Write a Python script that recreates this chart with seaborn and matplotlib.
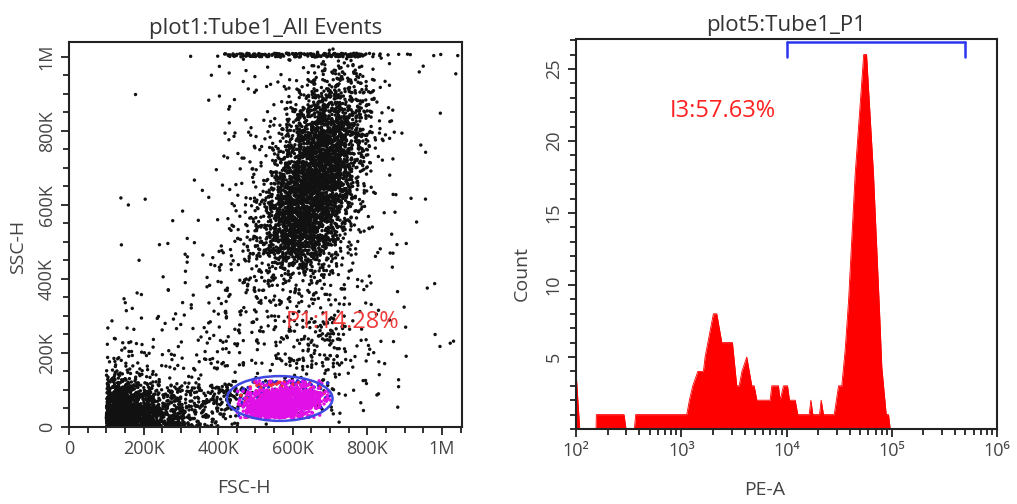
import numpy as np
import pandas as pd
import matplotlib
matplotlib.use("Agg")
import matplotlib.pyplot as plt
import seaborn as sns
from matplotlib.patches import Ellipse
from matplotlib.ticker import MultipleLocator, FixedLocator, LogLocator, NullFormatter

sns.set_style("white")
plt.rcParams["font.family"] = ["Open Sans", "DejaVu Sans"]

# ---------------- data: left panel (FSC-H vs SSC-H), event counts per 50K x 50K cell ----------------
grid_step = 50_000
fsc_threshold = 100_000          # acquisition threshold: no events below this FSC
# rows = SSC bins from 0 (bottom) upward, columns = FSC bins from 0 to 1.05M
scatter_rows = [
    "0 0 520 400 180 95 45 28 10 3 1 0 0 1 2 1 0 0 0 0 0",
    "0 0 200 140 60 45 40 45 55 10 2 1 2 3 4 1 1 1 0 0 0",
    "0 0 50 30 13 9 7 6 8 4 3 4 6 9 9 3 1 2 0 0 0",
    "0 0 12 8 5 5 5 5 7 5 4 7 12 17 12 4 2 1 1 0 0",
    "0 0 5 4 3 3 4 4 7 5 6 8 14 18 12 3 2 1 0 1 1",
    "0 0 3 2 3 3 3 4 7 6 7 8 12 14 10 3 2 1 0 0 3",
    "0 0 1 1 2 2 3 3 6 6 8 8 9 10 7 3 2 1 0 0 0",
    "0 0 1 1 1 2 2 3 6 7 10 11 11 11 6 2 2 1 1 0 1",
    "0 0 0 0 1 1 2 3 5 9 18 25 28 19 10 2 2 1 0 0 0",
    "0 0 1 0 1 1 1 2 5 14 32 80 95 45 15 3 2 2 0 0 0",
    "0 0 0 0 0 0 1 1 4 10 32 120 165 95 32 5 2 0 1 0 0",
    "0 0 1 1 1 1 1 2 4 6 24 105 175 135 55 8 2 0 1 0 0",
    "0 0 0 0 0 0 0 1 3 5 16 80 160 155 80 15 2 2 1 1 0",
    "0 0 0 0 0 0 0 1 2 4 10 60 140 155 105 22 3 0 0 0 0",
    "0 0 0 0 0 0 0 0 2 3 6 40 110 140 115 32 4 0 0 0 0",
    "0 0 0 0 0 0 0 0 2 3 5 24 80 125 115 40 6 1 1 1 0",
    "0 0 0 0 0 0 0 0 2 2 4 14 48 92 90 40 6 2 0 0 0",
    "0 0 0 0 0 0 0 1 1 2 2 6 22 55 62 38 4 1 0 0 1",
    "0 0 0 1 0 0 0 1 2 3 3 4 9 24 34 22 3 0 0 0 0",
    "0 0 0 0 0 0 0 0 1 2 2 2 4 10 16 12 2 0 1 1 1",
]
# saturated events at the SSC ceiling (1.000M-1.010M), per 50K FSC bin
saturated_counts = "0 0 0 0 0 0 1 0 8 28 28 22 20 24 28 22 3 2 2 2 2"
saturated_ssc = (1_000_000, 1_010_000)

# P1 gated events, 25K x 25K cells: FSC 450K-700K, SSC 25K-125K (rows bottom->top)
p1_origin = (450_000, 25_000)
p1_step = 25_000
p1_magenta = [
    "5 28 52 58 58 45 32 13 4 0",
    "8 32 58 72 78 78 72 58 26 6",
    "3 10 23 36 42 47 52 47 29 8",
    "0 1 4 5 6 8 10 9 5 1",
]
p1_blue = [
    "2 3 4 4 3 3 2 1 0 0",
    "4 6 8 8 8 8 6 5 3 1",
    "5 9 12 12 12 12 12 10 6 2",
    "1 4 7 8 8 8 8 6 3 1",
]
p1_red = [
    "1 1 2 2 2 2 1 1 0 0",
    "1 2 3 3 3 3 3 2 2 1",
    "1 3 5 5 6 6 6 5 3 1",
    "0 2 4 4 5 5 5 4 2 0",
]
p1_gate = dict(center=(565_000, 77_000), width=283_000, height=121_000)
p1_label = "P1:14.28%"

# ---------------- data: right panel (PE-A histogram of P1) ----------------
pe_log = [2.000, 2.035, 2.190, 2.193, 2.456, 2.475, 2.554, 2.567, 3.052, 3.077,
          3.109, 3.157, 3.210, 3.226, 3.305, 3.337, 3.385, 3.486, 3.527, 3.550,
          3.576, 3.622, 3.670, 3.692, 3.718, 3.844, 3.860, 3.923, 3.939, 3.971,
          4.009, 4.028, 4.082, 4.107, 4.215, 4.231, 4.250, 4.313, 4.329, 4.351,
          4.453, 4.494, 4.525, 4.557, 4.589, 4.652, 4.733, 4.760, 4.826, 4.883,
          4.905, 4.947, 4.969, 4.985]
pe_count = [4.0, 0.0, 0.0, 1.0, 1.0, 0.0, 0.0, 1.0, 1.0, 2.0,
            3.0, 4.0, 4.0, 5.0, 8.0, 8.0, 6.0, 6.0, 3.0, 3.0,
            4.0, 5.0, 3.0, 3.0, 2.0, 2.0, 3.0, 3.0, 2.0, 3.0,
            3.0, 2.0, 2.0, 1.0, 1.0, 2.0, 1.0, 1.0, 2.0, 1.0,
            1.0, 3.0, 3.0, 5.5, 8.9, 17.7, 26.0, 26.0, 17.7, 8.25,
            4.3, 1.0, 1.0, 0.0]
i3_gate = (1e4, 5e5)
i3_label = "I3:57.63%"


# ---------------- place events for each cell (deterministic hash layout inside a cell) ----------------
def _hash(k, j):
    v = np.sin(k * 12.9898 + j * 78.233) * 43758.5453
    return v - np.floor(v)


def cells_to_points(rows, x0, y0, dx, dy, start, smooth_x=True, smooth_y=True):
    """Spread each cell's events over the cell (uniform) or a tent around it (smooth)."""
    xs, ys = [], []
    k = start
    for r, row in enumerate(rows):
        for c, n in enumerate(int(v) for v in row.split()):
            for _ in range(n):
                k += 1
                u1, u2, u3, u4 = (_hash(k, j) for j in range(4))
                fx = (u1 + u2) if smooth_x else (u1 + 0.5)
                fy = (u3 + u4) if smooth_y else (u3 + 0.5)
                xs.append(x0 + (c + fx - 0.5) * dx)
                ys.append(y0 + (r + fy - 0.5) * dy)
    return np.array(xs), np.array(ys), k


frames = []
k = 0
bx, by, k = cells_to_points(scatter_rows, 0, 0, grid_step, grid_step, k)
bx = np.where(bx < fsc_threshold, 2 * fsc_threshold - bx, bx)
by = np.abs(by)
sx, sy, k = cells_to_points([saturated_counts], 0, saturated_ssc[0], grid_step,
                            saturated_ssc[1] - saturated_ssc[0], k, smooth_y=False)
frames.append(pd.DataFrame({"fsc": np.concatenate([bx, sx]),
                            "ssc": np.concatenate([by, sy]), "pop": "other"}))
for name, rows in (("blue", p1_blue), ("red", p1_red), ("magenta", p1_magenta)):
    px, py, k = cells_to_points(rows, p1_origin[0], p1_origin[1], p1_step, p1_step, k,
                                smooth_x=False, smooth_y=False)
    frames.append(pd.DataFrame({"fsc": px, "ssc": py, "pop": name}))
events = pd.concat(frames, ignore_index=True)
palette = {"other": "#111111", "blue": "#2b2bd8", "red": "#ff2a3a", "magenta": "#e010e6"}

# ---------------- figure ----------------
fig = plt.figure(figsize=(10.17, 5.04), dpi=100)
ax1 = fig.add_axes([0.0678, 0.1528, 0.3865, 0.764])
ax2 = fig.add_axes([0.5664, 0.1488, 0.414, 0.773])

text_col = "#444444"
spine_col = "#222222"

sns.scatterplot(data=events, x="fsc", y="ssc", hue="pop", palette=palette, s=6,
                linewidth=0, marker="o", legend=False, ax=ax1)
ax1.add_patch(Ellipse(p1_gate["center"], p1_gate["width"], p1_gate["height"],
                      fill=False, edgecolor="#3f48e0", lw=1.8, zorder=5))
ax1.text(580_000, 284_000, p1_label, color="#f03a3a", fontsize=17, va="center", ha="left")

ax1.set_xlim(0, 1_053_600)
ax1.set_ylim(0, 1_040_600)
major = [0, 200_000, 400_000, 600_000, 800_000, 1_000_000]
major_lbl = ["0", "200K", "400K", "600K", "800K", "1M"]
ax1.xaxis.set_major_locator(FixedLocator(major))
ax1.yaxis.set_major_locator(FixedLocator(major))
ax1.xaxis.set_minor_locator(MultipleLocator(50_000))
ax1.yaxis.set_minor_locator(MultipleLocator(50_000))
ax1.set_xticklabels(major_lbl)
ax1.set_yticklabels(major_lbl, rotation=90, va="center")
ax1.set_xlabel("FSC-H", fontsize=14, color=text_col)
ax1.set_ylabel("SSC-H", fontsize=14, color=text_col)
ax1.xaxis.set_label_coords(0.445, -0.158)
ax1.yaxis.set_label_coords(-0.13, 0.468)
ax1.set_title("plot1:Tube1_All Events", fontsize=16, color="#333333", pad=6)

# histogram
pe_x = 10 ** np.array(pe_log)
ax2.set_xscale("log")
ax2.fill_between(pe_x, pe_count, 0, color="#ff0000", lw=0)
sns.lineplot(x=pe_x, y=pe_count, color="#ff0000", lw=0.6, ax=ax2, sort=False)
gate_y, gate_tick = 26.84, 25.8
ax2.plot(list(i3_gate), [gate_y, gate_y], color="#2b35f0", lw=1.8, clip_on=False)
for gx in i3_gate:
    ax2.plot([gx, gx], [gate_tick, gate_y], color="#2b35f0", lw=1.8, clip_on=False)
ax2.text(770, 22.1, i3_label, color="#ff2020", fontsize=17, va="center", ha="left")

ax2.set_xlim(1e2, 1e6)
ax2.set_ylim(0, 27.05)
ax2.xaxis.set_major_locator(FixedLocator([1e2, 1e3, 1e4, 1e5, 1e6]))
ax2.xaxis.set_minor_locator(LogLocator(base=10, subs=np.arange(2, 10)))
ax2.xaxis.set_minor_formatter(NullFormatter())
ax2.set_xticklabels(["10²", "10³", "10⁴", "10⁵", "10⁶"])
ax2.yaxis.set_major_locator(FixedLocator([5, 10, 15, 20, 25]))
ax2.yaxis.set_minor_locator(MultipleLocator(1))
ax2.set_yticklabels(["5", "10", "15", "20", "25"], rotation=90, va="center")
ax2.set_xlabel("PE-A", fontsize=14, color=text_col)
ax2.set_ylabel("Count", fontsize=14, color=text_col)
ax2.xaxis.set_label_coords(0.447, -0.156)
ax2.yaxis.set_label_coords(-0.128, 0.40)
ax2.set_title("plot5:Tube1_P1", fontsize=16, color="#333333", pad=6)

for ax in (ax1, ax2):
    ax.xaxis.label.set_va("center")
    ax.yaxis.label.set_va("center")
    for sp in ax.spines.values():
        sp.set_visible(True)
        sp.set_color(spine_col)
        sp.set_linewidth(1.5)
    ax.tick_params(which="both", direction="out", color=spine_col, width=1.3,
                   labelsize=13, labelcolor=text_col, bottom=True, left=True)
    ax.tick_params(which="major", length=6)
    ax.tick_params(which="minor", length=4.5)

fig.savefig("out.png", dpi=100)
